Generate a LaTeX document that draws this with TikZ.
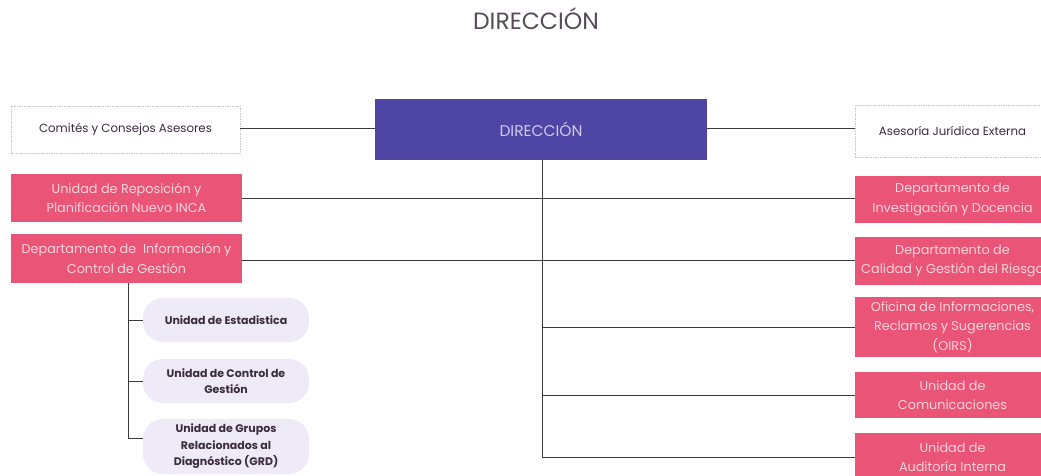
\documentclass[tikz,border=0pt]{standalone}
\usepackage{fontspec}
\setmainfont{Poppins}
\definecolor{pinkbox}{HTML}{EA5577}
\definecolor{pinktext}{HTML}{FBD3DD}
\definecolor{dirblue}{HTML}{4E45A4}
\definecolor{dirtext}{HTML}{CFCBEF}
\definecolor{lav}{HTML}{EEEAF8}
\definecolor{darktext}{HTML}{3A2C3C}
\definecolor{linecol}{HTML}{3A3A3A}
\begin{document}
\begin{tikzpicture}[x=1pt,y=-1pt,
  pinkstyle/.style={fill=pinkbox, draw=none, text=pinktext, align=center,
    font=\fontsize{12.8}{19.5}\selectfont, inner sep=0pt},
  whitestyle/.style={fill=white, draw=gray!45, dashed, dash pattern=on 1.5pt off 1pt,
    text=darktext, align=center, font=\fontsize{11.8}{14}\selectfont, inner sep=0pt},
  substyle/.style={fill=lav, draw=none, rounded corners=20pt, text=darktext, align=center,
    font=\fontsize{11}{16.5}\selectfont\bfseries, inner sep=0pt, minimum width=166pt},
  conn/.style={draw=linecol, line width=0.6pt}]
\useasboundingbox (0,0) rectangle (1041,475);
\fill[white] (0,0) rectangle (1041,475);
\begin{scope}
\clip (0,0) rectangle (1041,475);
% title
\node[text=darktext!85, font=\fontsize{23.5}{26}\selectfont] (title) at (536,19) {DIRECCIÓN};
% central
\node[fill=dirblue, text=dirtext, font=\fontsize{15.5}{18}\selectfont, minimum width=332pt, minimum height=61pt, inner sep=0pt] (dir) at (541,129.5) {DIRECCIÓN};
% left
\node[whitestyle, minimum width=229pt, minimum height=47pt] (com) at (125.5,129.5) {Comités y Consejos Asesores};
\node[pinkstyle, minimum width=231pt, minimum height=48pt] (rep) at (126.5,198) {Unidad de Reposición y\\Planificación Nuevo INCA};
\node[pinkstyle, minimum width=231pt, minimum height=49pt] (info) at (126.5,258.5) {Departamento de\ \ Información y\\Control de Gestión};
% sub
\node[substyle, minimum height=44pt] (est) at (226,320) {Unidad de Estadistica};
\node[substyle, minimum height=44pt] (cg) at (226,381) {Unidad de Control de\\Gestión};
\node[substyle, minimum height=55pt] (grd) at (226,446.5) {Unidad de Grupos\\Relacionados al\\Diagnóstico (GRD)};
% right
\node[whitestyle, minimum width=195pt, minimum height=52pt] (ase) at (952.5,131) {Asesoría Jurídica Externa};
\node[pinkstyle, minimum width=195pt, minimum height=47pt] (inv) at (952.5,199.5) {Departamento de\\Investigación y Docencia};
\node[pinkstyle, minimum width=195pt, minimum height=48pt] (cal) at (952.5,261) {Departamento de\\Calidad y Gestión del Riesgo};
\node[pinkstyle, minimum width=195pt, minimum height=60pt] (oirs) at (952.5,327) {Oficina de Informaciones,\\Reclamos y Sugerencias\\(OIRS)};
\node[pinkstyle, minimum width=195pt, minimum height=46pt] (comu) at (952.5,395) {Unidad de\\Comunicaciones};
\node[pinkstyle, minimum width=195pt, minimum height=48pt] (aud) at (952.5,457) {Unidad de\\Auditoría Interna};
% connectors
\coordinate (trunk) at (542,457);
\coordinate (tOirs) at (542,327);
\coordinate (tComu) at (542,395);
\draw[conn] (com.east |- 0,128) -- (dir.west |- 0,128);
\draw[conn] (dir.east |- 0,128) -- (ase.west |- 0,128);
\draw[conn] (dir.south -| trunk) -- (trunk) -- (aud.west |- trunk);
\draw[conn] (rep.east) -- (inv.west |- rep.east);
\draw[conn] (info.east |- 0,260) -- (cal.west |- 0,260);
\draw[conn] (tOirs) -- (oirs.west);
\draw[conn] (tComu) -- (comu.west);
\coordinate (sub) at (128,438);
\draw[conn] (info.south -| sub) -- (sub) -- (grd.west |- sub);
\draw[conn] (est.west -| sub) -- (est.west);
\draw[conn] (cg.west -| sub) -- (cg.west);
\end{scope}
\end{tikzpicture}
\end{document}
